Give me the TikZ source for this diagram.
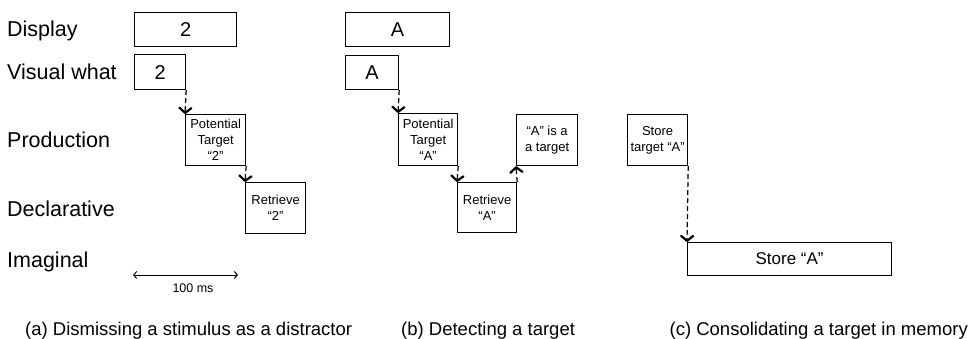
\documentclass[tikz,border=0pt]{standalone}
\usepackage{fontspec}
\setmainfont{Liberation Sans}
\usetikzlibrary{arrows.meta}
\begin{document}
\begin{tikzpicture}[x=1pt,y=-1pt,
  box/.style={draw, line width=1.2pt, inner sep=0pt, anchor=north west, align=center},
  rowlabel/.style={anchor=base west, inner sep=0pt, font=\fontsize{21.5}{24}\selectfont},
  bigtext/.style={font=\fontsize{20}{24}\selectfont},
  boxtext/.style={font=\fontsize{13}{16}\selectfont},
  caption/.style={inner sep=0pt, font=\fontsize{18.5}{22}\selectfont},
  link/.style={dash pattern=on 5pt off 3pt, line width=1.2pt,
    -{Straight Barb[length=5pt,width=12pt,line width=2.2pt,round]}},
  scalebar/.style={line width=1pt,
    {Straight Barb[length=3pt,width=7pt]}-{Straight Barb[length=3pt,width=7pt]}}
]
\useasboundingbox (0,0) rectangle (971,339);

% module names
\node[rowlabel] (lDisplay) at (7,37)  {Display};
\node[rowlabel] (lVisual)  at (7,80)  {Visual what};
\node[rowlabel] (lProd)    at (7,148) {Production};
\node[rowlabel] (lDecl)    at (7,216) {Declarative};
\node[rowlabel] (lImag)    at (7,267) {Imaginal};

% (a) distractor
\node[box, bigtext, minimum width=102pt, minimum height=34pt] (a1) at (134,12) {2};
\node[box, bigtext, minimum width=51pt,  minimum height=35pt] (a2) at (134,54) {2};
\node[box, boxtext, minimum width=60pt,  minimum height=51pt] (a3) at (185,114) {Potential\\Target\\“2”};
\node[box, boxtext, minimum width=60pt,  minimum height=51pt] (a4) at (245,182) {Retrieve\\“2”};
\draw[link] (a2.south east) -- (a3.north west);
\draw[link] (a3.south east) -- (a4.north west);

% time scale
\coordinate (s1) at (133,275);
\coordinate (s2) at (238,275);
\draw[scalebar] (s1) -- (s2);
\node[boxtext, font=\fontsize{12.5}{15}\selectfont] (sLabel) at (193,288) {100 ms};

% (b) target
\node[box, bigtext, minimum width=104pt, minimum height=34pt] (b1) at (345,12) {A};
\node[box, bigtext, minimum width=53pt,  minimum height=34pt] (b2) at (345,55) {A};
\node[box, boxtext, minimum width=59pt,  minimum height=52pt] (b3) at (398,113) {Potential\\Target\\“A”};
\node[box, boxtext, minimum width=59pt,  minimum height=50pt] (b4) at (457,182) {Retrieve\\“A”};
\node[box, boxtext, minimum width=61pt,  minimum height=51pt] (b5) at (516,114) {“A” is a\\a target};
\draw[link] (b2.south east) -- (b3.north west);
\draw[link] (b3.south east) -- (b4.north west);
\draw[link] (b4.north east) -- (b5.south west);

% (c) consolidation
\node[box, boxtext, minimum width=60pt,  minimum height=51pt] (c1) at (627,114) {Store\\target “A”};
\node[box, font=\fontsize{17}{20}\selectfont, minimum width=204pt, minimum height=33pt] (c2) at (687,242) {Store “A”};
\draw[link] (c1.south east) -- (c2.north west);

% captions
\node[caption, anchor=base west] (capA) at (25,335)  {(a) Dismissing a stimulus as a distractor};
\node[caption, anchor=base west] (capB) at (401,335) {(b) Detecting a target};
\node[caption, anchor=base east] (capC) at (968,335) {(c) Consolidating a target in memory};
\end{tikzpicture}
\end{document}
